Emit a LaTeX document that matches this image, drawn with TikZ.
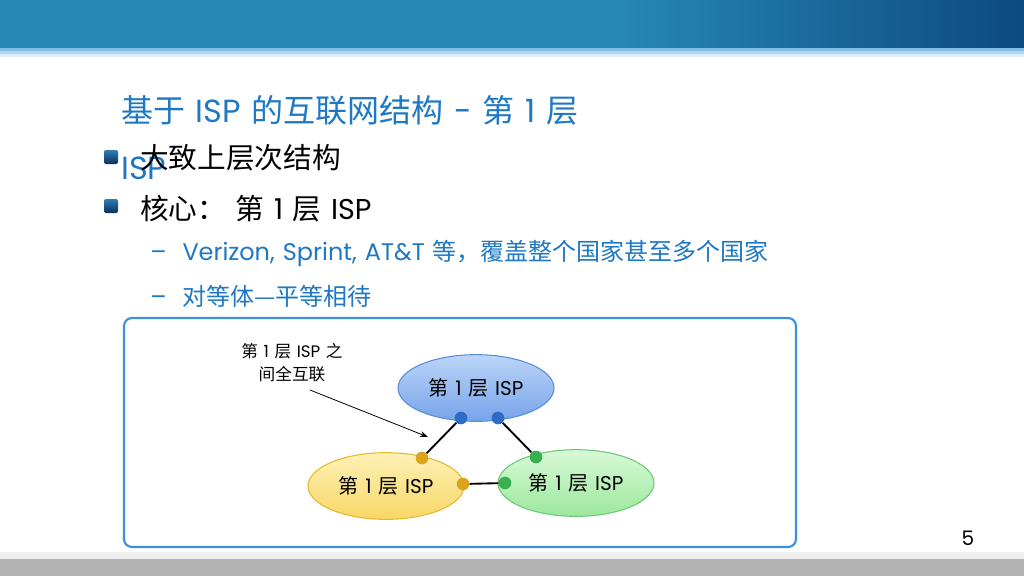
\documentclass[tikz,border=0pt]{standalone}
\usepackage{fontspec}
\setmainfont{Poppins}[WordSpace=1.25]
\newfontfamily\cjk{Noto Sans CJK SC}
\newcommand{\zh}[1]{{\cjk #1}}
\usetikzlibrary{shapes.geometric,arrows.meta}

\definecolor{headA}{HTML}{2787B6}
\definecolor{headB}{HTML}{0C4A80}
\definecolor{stripeA}{HTML}{84BCE2}
\definecolor{stripeB}{HTML}{B2D8F0}
\definecolor{stripeC}{HTML}{DCEEF9}
\definecolor{titleblue}{HTML}{1E78C4}
\definecolor{frameblue}{HTML}{3D8FE0}
\definecolor{bulletA}{HTML}{2F7FB8}
\definecolor{bulletB}{HTML}{0B2F5A}
\definecolor{footA}{HTML}{EFEFEF}
\definecolor{footB}{HTML}{B2B2B2}
\definecolor{blueTop}{HTML}{BCD5F8}
\definecolor{blueBot}{HTML}{76A3EA}
\definecolor{blueLine}{HTML}{5A8EDC}
\definecolor{yelTop}{HTML}{FDF1B6}
\definecolor{yelBot}{HTML}{F7D766}
\definecolor{yelLine}{HTML}{E8B830}
\definecolor{grnTop}{HTML}{D8F9D8}
\definecolor{grnBot}{HTML}{9CE89C}
\definecolor{grnLine}{HTML}{6CC878}
\definecolor{dotblue}{HTML}{2C6CC4}
\definecolor{dotyel}{HTML}{DBA41C}
\definecolor{dotgrn}{HTML}{38B050}

\begin{document}
\begin{tikzpicture}[x=0.75pt,y=-0.75pt,
    isp/.style={ellipse, draw=#1Line, line width=0.8pt, top color=#1Top, bottom color=#1Bot,
      minimum width=117pt, minimum height=50pt, inner sep=0pt, font=\fontsize{15pt}{18pt}\selectfont},
    port/.style={circle, fill=#1, inner sep=0pt, minimum size=9.5pt},
    link/.style={line width=1.4pt, black},
    bulletbox/.style={top color=bulletA, bottom color=bulletB, rounded corners=1.5pt},
    maintext/.style={anchor=west, inner sep=0pt, font=\fontsize{21.5pt}{26pt}\selectfont},
    subtext/.style={anchor=west, inner sep=0pt, text=titleblue, font=\fontsize{18pt}{22pt}\selectfont}]
\useasboundingbox (0,0) rectangle (1024,576);
\fill[white] (0,0) rectangle (1024,576);
\fill[headA] (0,0) rectangle (620,48);
\shade[left color=headA, right color=headB] (619,0) rectangle (1024,48);
\fill[stripeA] (0,48) rectangle (1024,51);
\fill[stripeB] (0,51) rectangle (1024,54);
\fill[stripeC] (0,54) rectangle (1024,57);
\fill[footA] (0,552) rectangle (1024,559);
\fill[footB] (0,559) rectangle (1024,576);

\node[anchor=west, inner sep=0pt, text=titleblue, font=\fontsize{24pt}{28pt}\selectfont] (title) at (121,110) {\zh{基于} ISP \zh{的互联网结构} - \zh{第} 1 \zh{层}};
\node[anchor=west, inner sep=0pt, text=titleblue, font=\fontsize{24pt}{28pt}\selectfont] (title2) at (121,168) {ISP};

\shade[bulletbox] (104,150) rectangle (118,164);
\shade[bulletbox] (104,199) rectangle (118,213);
\node[maintext] (b1) at (140,158) {\zh{大致上层次结构}};
\node[maintext] (b2) at (140,209) {\zh{核心：} \zh{第} 1 \zh{层} ISP};
\node[subtext] (s1) at (150,253) {–\hspace{12pt}Verizon, Sprint, AT\&T \zh{等，覆盖整个国家甚至多个国家}};
\node[subtext] (s2) at (150,296) {–\hspace{12pt}\zh{对等体—平等相待}};

\draw[frameblue, line width=1.6pt, rounded corners=6pt] (124,318) rectangle (796,547);

\node[align=center, inner sep=0pt, font=\fontsize{12.5pt}{17pt}\selectfont] (note) at (292,363) {\zh{第} 1 \zh{层} ISP \zh{之}\\\zh{间全互联}};
\coordinate (from) at (310,390);
\coordinate (tip) at (428,437);
\draw[-{Stealth[length=6pt,width=4.5pt]}, line width=0.6pt] (from) -- (tip);

\node[isp=blue] (top) at (476,388) {\zh{第} 1 \zh{层} ISP};
\node[isp=yel] (left) at (386,486) {\zh{第} 1 \zh{层} ISP};
\node[isp=grn] (right) at (576,483) {\zh{第} 1 \zh{层} ISP};

\node[port=dotblue] (t1) at (461,418) {};
\node[port=dotblue] (t2) at (498,418) {};
\node[port=dotyel] (l1) at (422,458) {};
\node[port=dotyel] (l2) at (463,484) {};
\node[port=dotgrn] (r1) at (536,457) {};
\node[port=dotgrn] (r2) at (505,483) {};
\draw[link] (t1) -- (l1);
\draw[link] (t2) -- (r1);
\draw[link] (l2) -- (r2);

\node[font=\fontsize{15pt}{18pt}\selectfont] (page) at (968,538) {5};
\end{tikzpicture}
\end{document}
